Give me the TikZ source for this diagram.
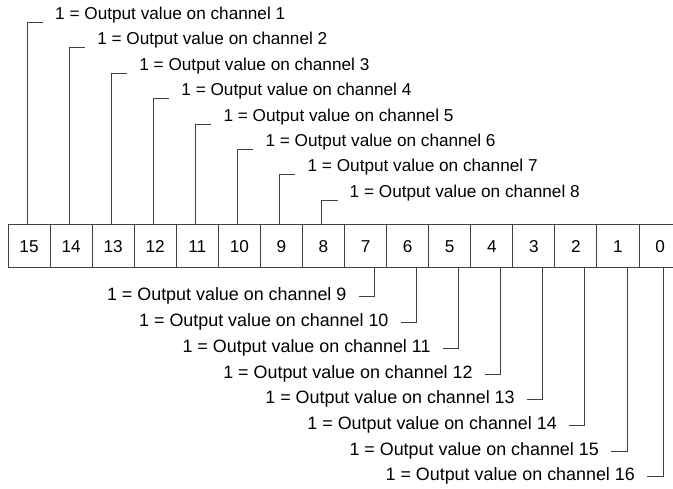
\documentclass[tikz,border=0pt]{standalone}
\usepackage{fontspec}
\setmainfont{Liberation Sans}
\begin{document}
\begin{tikzpicture}[x=1pt,y=-1pt,
  linecol/.style={draw=black!75, line width=1pt},
  bitbox/.style={linecol, minimum width=42.07pt, minimum height=43pt, inner sep=0pt, font=\fontsize{17.2}{20}\selectfont},
  lbl/.style={inner sep=0pt, font=\fontsize{17.2}{20}\selectfont},
  lblb/.style={inner sep=0pt, font=\fontsize{17.9}{20}\selectfont},
  conn/.style={linecol}]
\useasboundingbox (0,0) rectangle (673,489);
\begin{scope}
\clip (0,0) rectangle (673,489);
\foreach \k in {0,...,15} {
  \pgfmathsetmacro\xc{8+(15-\k+0.5)*42.07}
  \node[bitbox] (b\k) at (\xc,246.5) {\k};
}
\end{scope}
% top labels
\foreach \j in {0,...,7} {
  \pgfmathtruncatemacro\k{15-\j}
  \pgfmathtruncatemacro\n{\j+1}
  \pgfmathsetmacro\xt{8+(\j+0.5)*42.07-2+28}
  \pgfmathsetmacro\yt{19.5+\j*25.4}
  \node[lbl, anchor=base west] (t\n) at (\xt,\yt) {1 = Output value on channel \n};
  \draw[conn] ([xshift=-2pt]b\k.north) |- ([xshift=-12pt,yshift=-3pt]t\n.base west);
}
% bottom labels
\foreach \m in {0,...,7} {
  \pgfmathtruncatemacro\k{7-\m}
  \pgfmathtruncatemacro\n{\m+9}
  \pgfmathsetmacro\sh{ifthenelse(\k==0,3,9)}
  \pgfmathsetmacro\xt{8+(8.5+\m)*42.07+\sh-28}
  \pgfmathsetmacro\yt{301+\m*25.7}
  \node[lblb, anchor=base east] (u\n) at (\xt,\yt) {1 = Output value on channel \n};
  \draw[conn] ([xshift=\sh pt]b\k.south) |- ([xshift=12pt,yshift=4pt]u\n.base east);
}
\end{tikzpicture}
\end{document}
